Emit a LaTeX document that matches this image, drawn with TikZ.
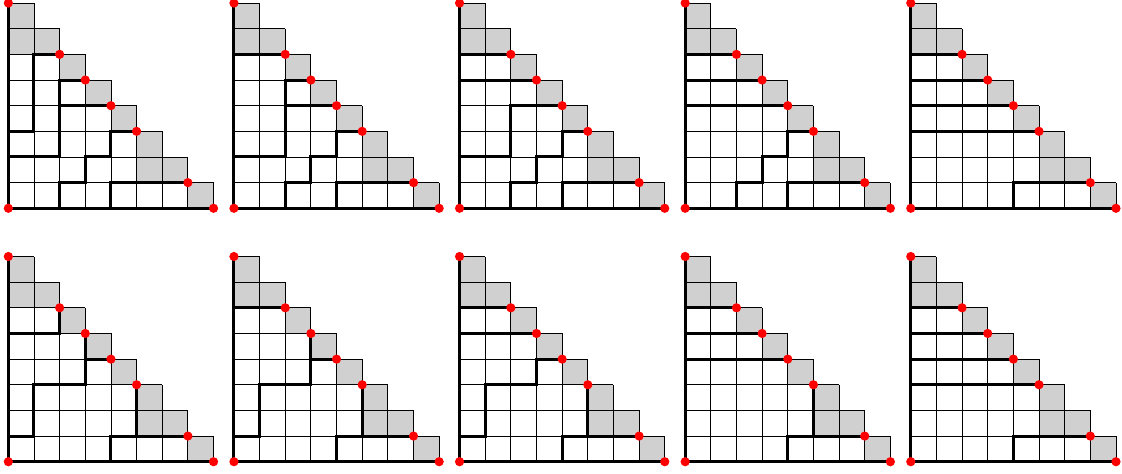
\documentclass[tikz,border=0pt]{standalone}
\usepackage{tikz}
\usepackage{xcolor}
\definecolor{CellGray}{RGB}{208,208,208}
\definecolor{PeakRed}{RGB}{255,0,0}

% one staircase board: #1,#2 = shift, #3 = thick routes
\newcommand{\stairpanel}[3]{%
\begin{scope}[shift={(#1,#2)}]
\foreach \c/\r in {7/0,5/1,6/1,5/2,4/3,3/4,2/5,0/6,1/6,0/7}
  \fill[graycell] (\c,\r) rectangle ++(1,1);
\foreach \r/\n in {0/8,1/7,2/6,3/5,4/4,5/3,6/2,7/1}
  \draw[cellline] (0,\r) grid (\n,\r+1);
\draw[route] #3;
\draw[route] (0,8)--(0,0)--(8,0);
\foreach \p in {(0,8),(2,6),(3,5),(4,4),(5,3),(7,1),(8,0),(0,0)}
  \fill[peak] \p circle[radius=4.6pt];
\end{scope}}

\begin{document}
\begin{tikzpicture}[
x=0.9cm,y=0.9cm,
cellline/.style={draw=black,line width=0.8pt,step=1},
graycell/.style={fill=CellGray},
route/.style={draw=black,line width=3pt},
peak/.style={fill=PeakRed}
]
\useasboundingbox (-0.325,-0.44) rectangle (43.415,18.0);
% top row
\stairpanel{0}{9.88}{(2,6)--(1,6)--(1,3)--(0,3) (3,5)--(2,5)--(2,2)--(0,2) (4,4)--(2,4)
  (5,3)--(4,3)--(4,2)--(3,2)--(3,1)--(2,1)--(2,0) (7,1)--(4,1)--(4,0)}
\stairpanel{8.795}{9.88}{(2,6)--(0,6) (3,5)--(2,5)--(2,2)--(0,2) (4,4)--(2,4)
  (5,3)--(4,3)--(4,2)--(3,2)--(3,1)--(2,1)--(2,0) (7,1)--(4,1)--(4,0)}
\stairpanel{17.59}{9.88}{(2,6)--(0,6) (3,5)--(0,5) (4,4)--(2,4)--(2,2)--(0,2)
  (5,3)--(4,3)--(4,2)--(3,2)--(3,1)--(2,1)--(2,0) (7,1)--(4,1)--(4,0)}
\stairpanel{26.385}{9.88}{(2,6)--(0,6) (3,5)--(0,5) (4,4)--(0,4)
  (5,3)--(4,3)--(4,2)--(3,2)--(3,1)--(2,1)--(2,0) (7,1)--(4,1)--(4,0)}
\stairpanel{35.18}{9.88}{(2,6)--(0,6) (3,5)--(0,5) (4,4)--(0,4) (5,3)--(0,3) (7,1)--(4,1)--(4,0)}
% bottom row
\stairpanel{0}{0}{(2,6)--(2,5)--(0,5) (3,5)--(3,3)--(1,3)--(1,1)--(0,1) (4,4)--(3,4)
  (5,3)--(5,1) (7,1)--(4,1)--(4,0)}
\stairpanel{8.795}{0}{(2,6)--(0,6) (3,5)--(3,3)--(1,3)--(1,1)--(0,1) (4,4)--(3,4)
  (5,3)--(5,1) (7,1)--(4,1)--(4,0)}
\stairpanel{17.59}{0}{(2,6)--(0,6) (3,5)--(0,5) (4,4)--(3,4)--(3,3)--(1,3)--(1,1)--(0,1)
  (5,3)--(5,1) (7,1)--(4,1)--(4,0)}
\stairpanel{26.385}{0}{(2,6)--(0,6) (3,5)--(0,5) (4,4)--(0,4) (5,3)--(5,1) (7,1)--(4,1)--(4,0)}
\stairpanel{35.18}{0}{(2,6)--(0,6) (3,5)--(0,5) (4,4)--(0,4) (5,3)--(0,3) (7,1)--(4,1)--(4,0)}
\end{tikzpicture}
\end{document}
